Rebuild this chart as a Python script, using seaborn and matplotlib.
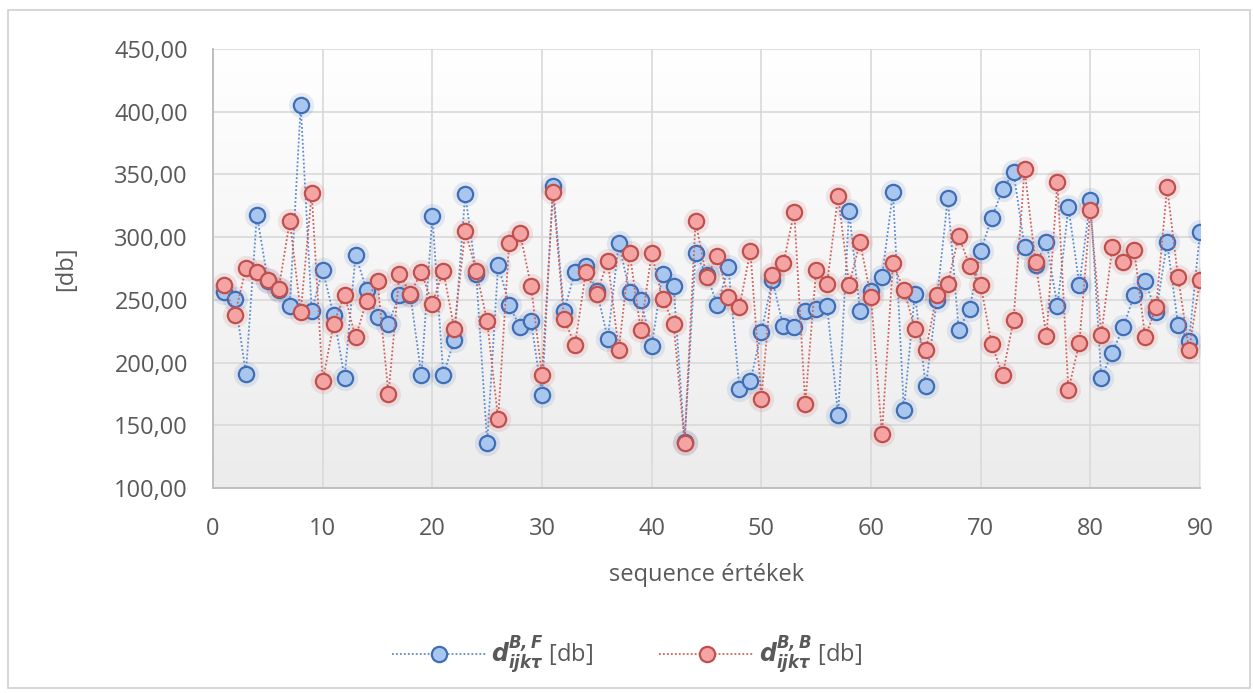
import numpy as np
import pandas as pd
import matplotlib
matplotlib.use("Agg")
import matplotlib.pyplot as plt
from matplotlib.patches import Rectangle
from matplotlib.lines import Line2D
from matplotlib.ticker import FuncFormatter, MultipleLocator
import seaborn as sns

sequence = list(range(1, 91))

d_bf = [256, 251, 191, 318, 265, 258, 245, 405, 241, 274,
        238, 188, 286, 258, 236, 231, 254, 254, 190, 317,
        190, 218, 334, 271, 136, 278, 246, 228, 233, 174,
        341, 241, 272, 277, 257, 219, 295, 256, 250, 213,
        271, 261, 137, 287, 270, 246, 276, 179, 185, 224,
        266, 229, 228, 241, 243, 245, 158, 321, 241, 257,
        268, 336, 162, 255, 181, 250, 331, 226, 243, 289,
        315, 338, 352, 292, 278, 296, 245, 324, 262, 330,
        188, 208, 228, 254, 265, 240, 296, 230, 217, 304]

d_bb = [262, 238, 275, 272, 266, 259, 313, 240, 335, 185,
        231, 254, 220, 249, 265, 175, 271, 255, 272, 247,
        273, 227, 305, 273, 233, 155, 295, 303, 261, 190,
        336, 235, 214, 272, 255, 281, 210, 287, 226, 287,
        251, 231, 136, 313, 268, 285, 252, 244, 289, 171,
        270, 279, 320, 167, 274, 263, 333, 262, 296, 252,
        143, 279, 258, 227, 210, 254, 263, 301, 277, 262,
        215, 190, 234, 354, 280, 221, 344, 178, 216, 322,
        222, 292, 280, 290, 220, 244, 340, 268, 210, 266]

label_bf = r"$\mathbfit{d}_{\mathbfit{ijk\tau}}^{\mathbfit{B,F}}$ [db]"
label_bb = r"$\mathbfit{d}_{\mathbfit{ijk\tau}}^{\mathbfit{B,B}}$ [db]"

sns.set_theme(style="white")
plt.rcParams["font.family"] = ["Open Sans", "DejaVu Sans"]
plt.rcParams["mathtext.fontset"] = "dejavusans"

text_color = "#595959"
grid_color = "#d9d9d9"
fs = 17

fig = plt.figure(figsize=(12.54, 6.93), dpi=100)
fig.patch.set_facecolor("white")
fig.add_artist(Rectangle((8 / 1254, 5 / 693), 1242 / 1254, 678 / 693,
                         transform=fig.transFigure, fill=False,
                         edgecolor="#d0d0d0", linewidth=1.2))

ax = fig.add_axes([213 / 1254, 1 - 488 / 693, 987 / 1254, 439 / 693])

# soft vertical gradient behind the plot area
grad = np.linspace(1.0, 0.0, 256).reshape(-1, 1)
low = np.array([0.925, 0.925, 0.925])
shade = low + (1 - low) * grad[:, :, None]
ax.imshow(shade, extent=[0, 1, 0, 1], transform=ax.transAxes,
          aspect="auto", zorder=0, interpolation="bicubic")

df = pd.DataFrame({"seq": sequence, "bf": d_bf, "bb": d_bb})

series = [
    ("bf", "#5b8bd0", "#a9c6ee", "#3f6db6", label_bf),
    ("bb", "#d0605c", "#f4a5a3", "#c0504d", label_bb),
]

for col, line_c, face_c, edge_c, lab in series:
    # faint halo behind each marker
    sns.scatterplot(data=df, x="seq", y=col, ax=ax, s=330, color=edge_c,
                    alpha=0.12, linewidth=0, zorder=2, legend=False)
    sns.lineplot(data=df, x="seq", y=col, ax=ax, color=line_c,
                 linestyle=(0, (1, 1.2)), linewidth=1.3, zorder=3,
                 marker="o", markersize=11, markerfacecolor=face_c,
                 markeredgecolor=edge_c, markeredgewidth=1.6,
                 label=lab, legend=False)

ax.set_xlim(0, 90)
ax.set_ylim(100, 450)
ax.xaxis.set_major_locator(MultipleLocator(10))
ax.yaxis.set_major_locator(MultipleLocator(50))
ax.yaxis.set_major_formatter(FuncFormatter(lambda v, p: f"{v:.2f}".replace(".", ",")))
ax.grid(True, color=grid_color, linewidth=1.2, zorder=1)
ax.set_axisbelow(True)
for s in ax.spines.values():
    s.set_visible(False)
for side in ("left", "bottom"):
    ax.spines[side].set_visible(True)
    ax.spines[side].set_color("#bfbfbf")
    ax.spines[side].set_linewidth(1.4)

ax.tick_params(axis="y", colors=text_color, labelsize=fs, length=0, pad=18)
ax.tick_params(axis="x", colors=text_color, labelsize=fs, length=0, pad=21)
ax.set_xlabel("sequence értékek", fontsize=fs, color=text_color, labelpad=16)
ax.set_ylabel("[db]", fontsize=fs, color=text_color, labelpad=26)

handles = [
    Line2D([0], [0], color=line_c, linestyle=(0, (1, 1.2)), linewidth=1.3,
           marker="o", markersize=11, markerfacecolor=face_c,
           markeredgecolor=edge_c, markeredgewidth=1.6)
    for _, line_c, face_c, edge_c, _ in series
]
labels = [lab for *_, lab in series]
fig.legend(handles, labels, loc="center", bbox_to_anchor=(0.5, 1 - 655 / 693),
           ncol=2, frameon=False, fontsize=fs, handlelength=4.0,
           columnspacing=2.8, handletextpad=0.2, labelcolor=text_color)

fig.savefig("out.png", dpi=100, facecolor="white")
